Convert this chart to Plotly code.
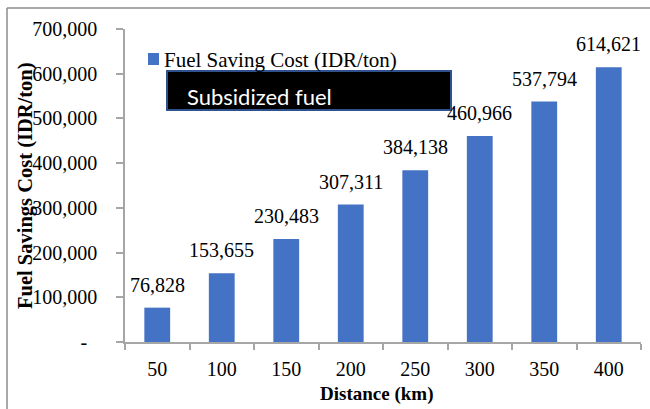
import plotly.graph_objects as go

# Fuel saving cost by distance (subsidized fuel)
distances = ["50", "100", "150", "200", "250", "300", "350", "400"]
saving_cost = [76828, 153655, 230483, 307311, 384138, 460966, 537794, 614621]
y_tick_vals = [0, 100000, 200000, 300000, 400000, 500000, 600000, 700000]
y_tick_text = ["-\u00a0\u00a0", "100,000", "200,000", "300,000", "400,000",
               "500,000", "600,000", "700,000"]

series_name = "Fuel Saving Cost (IDR/ton)"
scenario_label = "Subsidized fuel"
x_title = "Distance (km)"
y_title = "Fuel Savings Cost (IDR/ton)"

BAR_COLOR = "#4472C4"
AXIS_COLOR = "#A6A6A6"
SERIF = "Liberation Serif"

W, H = 650, 409
L, R, T, B = 125, 9, 29, 67
PW, PH = W - L - R, H - T - B


def px_x(px):
    return (px - L) / PW


def px_y(py):
    return (H - B - py) / PH


fig = go.Figure()
fig.add_trace(go.Bar(
    x=distances, y=saving_cost, name=series_name,
    marker=dict(color=BAR_COLOR, line=dict(width=0)),
    width=0.4, showlegend=False,
))

annotations = []
for i, v in enumerate(saving_cost):
    annotations.append(dict(
        x=i, y=v, xref="x", yref="y", text=f"{v:,}", showarrow=False,
        yanchor="bottom", yshift=10,
        font=dict(family=SERIF, size=20, color="black"),
    ))

# axis titles
annotations.append(dict(
    x=px_x(376), y=px_y(394), xref="paper", yref="paper", text=f"<b>{x_title}</b>",
    showarrow=False, xanchor="center", yanchor="middle",
    font=dict(family=SERIF, size=19, color="black"),
))
annotations.append(dict(
    x=px_x(25), y=px_y(186), xref="paper", yref="paper", text=f"<b>{y_title}</b>",
    showarrow=False, xanchor="center", yanchor="middle", textangle=-90,
    font=dict(family=SERIF, size=20.5, color="black"),
))

# legend entry
annotations.append(dict(
    x=px_x(162), y=px_y(60), xref="paper", yref="paper", text=series_name,
    showarrow=False, xanchor="left", yanchor="middle",
    font=dict(family=SERIF, size=21, color="black"),
))
# scenario box text
annotations.append(dict(
    x=px_x(185), y=px_y(96), xref="paper", yref="paper", text=scenario_label,
    showarrow=False, xanchor="left", yanchor="middle",
    font=dict(family="Lato", size=22, color="white"),
))

shapes = [
    # legend swatch
    dict(type="rect", xref="paper", yref="paper",
         x0=px_x(148), x1=px_x(159), y0=px_y(65), y1=px_y(53),
         fillcolor=BAR_COLOR, line=dict(width=0)),
    # scenario box
    dict(type="rect", xref="paper", yref="paper",
         x0=px_x(167), x1=px_x(451), y0=px_y(110), y1=px_y(71),
         fillcolor="black", line=dict(color="#2F528F", width=2)),
    # chart frame (top and left edges)
    dict(type="line", xref="paper", yref="paper",
         x0=px_x(7), x1=px_x(652), y0=px_y(8), y1=px_y(8),
         line=dict(color="#8C8C8C", width=1.5)),
    dict(type="line", xref="paper", yref="paper",
         x0=px_x(7), x1=px_x(7), y0=px_y(8), y1=px_y(412),
         line=dict(color="#8C8C8C", width=1.5)),
]

fig.update_layout(
    width=W, height=H,
    margin=dict(l=L, r=R, t=T, b=B, pad=0),
    plot_bgcolor="white", paper_bgcolor="white",
    bargap=0.6,
    annotations=annotations,
    shapes=shapes,
    showlegend=False,
)
fig.update_xaxes(
    type="category", range=[-0.5, len(distances) - 0.5], autorange=False,
    showline=True, linecolor=AXIS_COLOR, linewidth=1.5,
    ticks="outside", tickson="boundaries", ticklen=6, tickcolor=AXIS_COLOR,
    tickwidth=1.5, showgrid=False, zeroline=False, tickangle=0,
    tickfont=dict(family=SERIF, size=20, color="black"), ticklabelstandoff=8,
)
fig.update_yaxes(
    range=[0, 700000], showline=True, linecolor=AXIS_COLOR, linewidth=1.5,
    ticks="outside", ticklen=7, tickcolor=AXIS_COLOR, tickwidth=1.5,
    tickvals=y_tick_vals, ticktext=y_tick_text, showgrid=False, zeroline=False,
    tickfont=dict(family=SERIF, size=20, color="black"), ticklabelstandoff=15,
)

fig.write_html("out.html")
